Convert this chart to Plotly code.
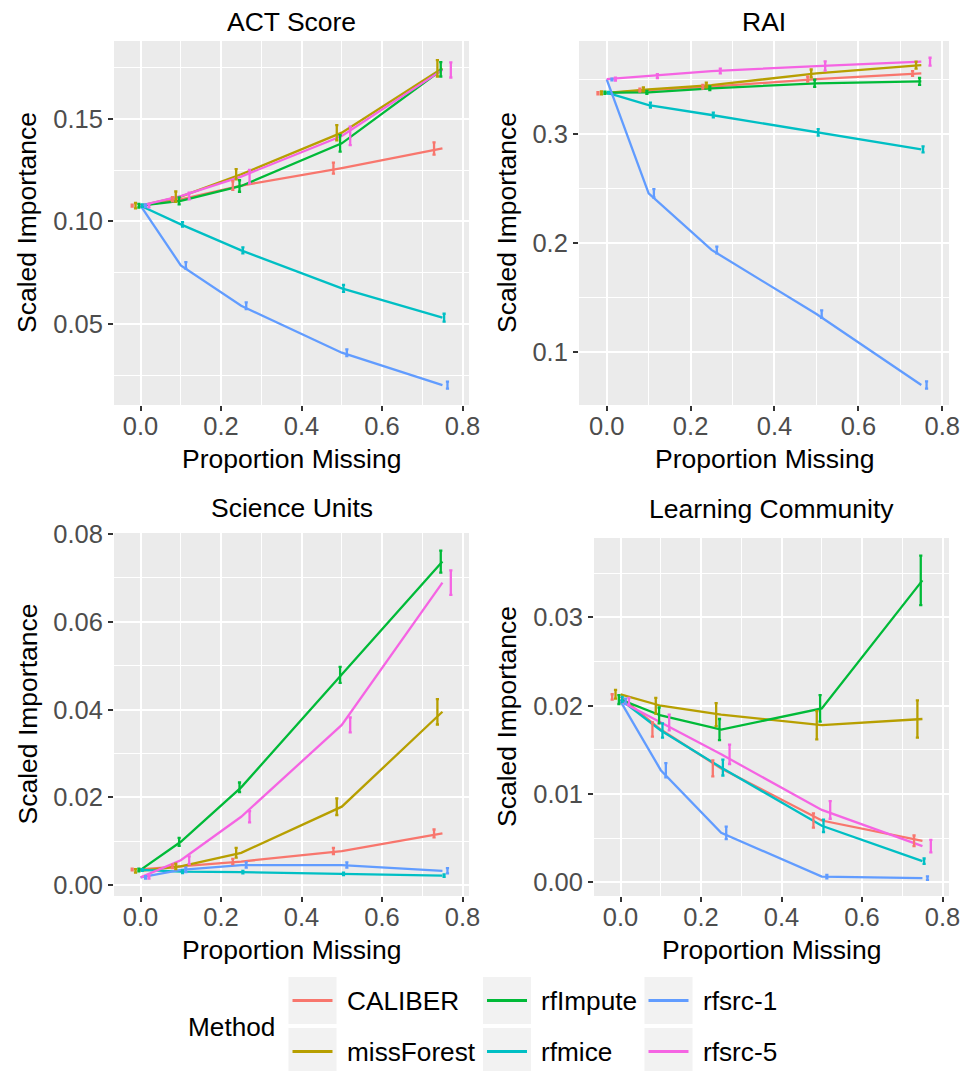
import plotly.graph_objects as go

# ---------------- data ----------------
x_levels = [0.0, 0.10, 0.25, 0.50, 0.75]
methods = ["CALIBER", "missForest", "rfImpute", "rfmice", "rfsrc-1", "rfsrc-5"]
colors = ["#F8766D", "#B79F00", "#00BA38", "#00BFC4", "#619CFF", "#F564E3"]
panel_titles = ["ACT Score", "RAI", "Science Units", "Learning Community"]
x_ticks = [0.0, 0.2, 0.4, 0.6, 0.8]

# ACT Score: rows follow `methods`, columns follow `x_levels`
act_mean = [
    [0.1077, 0.1108, 0.1175, 0.1260, 0.1356],
    [0.1077, 0.1121, 0.1230, 0.1433, 0.1747],
    [0.1077, 0.1100, 0.1173, 0.1381, 0.1742],
    [0.1077, 0.0986, 0.0859, 0.0674, 0.0531],
    [0.1077, 0.0786, 0.0589, 0.0360, 0.0202],
    [0.1077, 0.1124, 0.1219, 0.1417, 0.1739],
]
act_err = [
    [0.0005, 0.0010, 0.0021, 0.0027, 0.0030],
    [0.0013, 0.0025, 0.0025, 0.0037, 0.0040],
    [0.0009, 0.0017, 0.0028, 0.0040, 0.0035],
    [0.0006, 0.0011, 0.0015, 0.0017, 0.0019],
    [0.0006, 0.0016, 0.0016, 0.0016, 0.0017],
    [0.0008, 0.0016, 0.0033, 0.0045, 0.0037],
]
# RAI
rai_mean = [
    [0.3375, 0.3404, 0.3435, 0.3505, 0.3557],
    [0.3378, 0.3410, 0.3450, 0.3557, 0.3634],
    [0.3380, 0.3383, 0.3420, 0.3466, 0.3484],
    [0.3380, 0.3266, 0.3175, 0.3015, 0.2859],
    [0.3502, 0.2455, 0.1935, 0.1346, 0.0694],
    [0.3505, 0.3533, 0.3579, 0.3625, 0.3665],
]
rai_err = [
    [0.0010, 0.0013, 0.0017, 0.0022, 0.0022],
    [0.0013, 0.0018, 0.0022, 0.0036, 0.0032],
    [0.0010, 0.0013, 0.0017, 0.0033, 0.0032],
    [0.0008, 0.0022, 0.0022, 0.0030, 0.0027],
    [0.0008, 0.0038, 0.0031, 0.0034, 0.0033],
    [0.0013, 0.0018, 0.0022, 0.0042, 0.0036],
]
# Science Units
sci_mean = [
    [0.0036, 0.0043, 0.0054, 0.0078, 0.0118],
    [0.0033, 0.0043, 0.0074, 0.0179, 0.0395],
    [0.0035, 0.0099, 0.0223, 0.0479, 0.0737],
    [0.0035, 0.0031, 0.0030, 0.0026, 0.0022],
    [0.0018, 0.0035, 0.0046, 0.0046, 0.0033],
    [0.0018, 0.0057, 0.0156, 0.0365, 0.0689],
]
sci_err = [
    [0.0002, 0.0004, 0.0006, 0.0007, 0.0009],
    [0.0004, 0.0006, 0.0011, 0.0019, 0.0029],
    [0.0003, 0.0009, 0.0011, 0.0018, 0.0025],
    [0.0002, 0.0003, 0.0003, 0.0003, 0.0003],
    [0.0003, 0.0005, 0.0006, 0.0006, 0.0006],
    [0.0003, 0.0009, 0.0013, 0.0017, 0.0028],
]
# Learning Community
lc_mean = [
    [0.0210, 0.0173, 0.0129, 0.0070, 0.0047],
    [0.0213, 0.0200, 0.0190, 0.0178, 0.0185],
    [0.0207, 0.0189, 0.0173, 0.0197, 0.0342],
    [0.0207, 0.0172, 0.0130, 0.0064, 0.0024],
    [0.0205, 0.0127, 0.0056, 0.00065, 0.00047],
    [0.0205, 0.0181, 0.0145, 0.0082, 0.0041],
]
lc_err = [
    [0.0003, 0.0008, 0.0009, 0.0008, 0.0006],
    [0.0005, 0.0009, 0.0013, 0.0016, 0.0021],
    [0.0005, 0.0009, 0.0012, 0.0015, 0.0028],
    [0.0003, 0.0008, 0.0009, 0.0007, 0.0003],
    [0.0003, 0.0008, 0.0007, 0.0002, 0.0002],
    [0.0004, 0.0009, 0.0011, 0.0010, 0.0007],
]

# ---------------- layout constants ----------------
W, H = 966, 1071
FONT = "Liberation Sans, Arial, Helvetica, sans-serif"
dodge_width = 0.05

panels = [
    # data, errors, (left, right, top, bottom) in px, y range, y dtick, y format, title y
    (act_mean, act_err, (114, 469, 41, 405), [0.0105, 0.188], 0.05, ".2f", 22),
    (rai_mean, rai_err, (579, 949, 41, 405), [0.051, 0.3855], 0.1, ".1f", 22),
    (sci_mean, sci_err, (114, 469, 533, 896), [-0.00244, 0.0802], 0.02, ".2f", 508),
    (lc_mean, lc_err, (594, 949, 538, 896), [-0.00155, 0.0390], 0.01, ".2f", 509),
]

def px_x(v):
    return v / W

def px_y(v):
    return 1 - v / H

fig = go.Figure()
layout = dict(
    width=W, height=H,
    margin=dict(l=0, r=0, t=0, b=0, pad=0, autoexpand=False),
    paper_bgcolor="white",
    plot_bgcolor="#EBEBEB",
    showlegend=False,
    font=dict(family=FONT, color="black"),
)
annotations = []
shapes = []

n = len(methods)
offsets = [(i - (n - 1) / 2) * dodge_width / n for i in range(n)]

for p, (means, errs, (l, r, t, b), yr, ydt, yfmt, ty) in enumerate(panels):
    k = "" if p == 0 else str(p + 1)
    xa, ya = "x" + k, "y" + k
    # lines at the undodged positions
    for m in range(n):
        fig.add_trace(go.Scatter(
            x=x_levels, y=means[m], mode="lines", xaxis=xa, yaxis=ya,
            line=dict(color=colors[m], width=2.3), hoverinfo="skip",
            name=methods[m],
        ))
    # dodged error bars
    for m in range(n):
        fig.add_trace(go.Scatter(
            x=[xv + offsets[m] for xv in x_levels], y=means[m],
            mode="markers", xaxis=xa, yaxis=ya,
            marker=dict(size=0.1, color=colors[m], opacity=0),
            error_y=dict(type="data", array=errs[m], color=colors[m],
                         thickness=2.3, width=1.6, visible=True),
            hoverinfo="skip", name=methods[m],
        ))
    common = dict(
        ticks="outside", ticklen=5, tickwidth=2.2, tickcolor="#333333",
        tickfont=dict(size=25.5, color="#4D4D4D", family=FONT),
        showgrid=True, gridcolor="white", gridwidth=2.2,
        zeroline=False, showline=False, automargin=False,
    )
    layout["xaxis" + k] = dict(
        common, domain=[px_x(l), px_x(r)], range=[-0.066, 0.816],
        tickmode="array", tickvals=x_ticks, tickformat=".1f",
        ticklabelstandoff=-7,
        minor=dict(dtick=0.1, tick0=0, showgrid=True, gridcolor="white", gridwidth=1.1),
        anchor=ya,
    )
    layout["yaxis" + k] = dict(
        common, domain=[px_y(b), px_y(t)], range=yr,
        tick0=0, dtick=ydt, tickformat=yfmt,
        minor=dict(dtick=ydt / 2, tick0=0, showgrid=True, gridcolor="white", gridwidth=1.1),
        anchor=xa,
    )
    cx = (l + r) / 2
    cy = (t + b) / 2
    # panel title
    annotations.append(dict(
        text=panel_titles[p], x=px_x(cx), y=px_y(ty), xref="paper", yref="paper",
        xanchor="center", yanchor="middle", showarrow=False,
        font=dict(size=26.5, color="black", family=FONT),
    ))
    # x axis title
    annotations.append(dict(
        text="Proportion Missing", x=px_x(cx), y=px_y(b + 54), xref="paper", yref="paper",
        xanchor="center", yanchor="middle", showarrow=False,
        font=dict(size=26.5, color="black", family=FONT),
    ))
    # y axis title
    ytx = 27 if l < 300 else 507
    annotations.append(dict(
        text="Scaled Importance", x=px_x(ytx), y=px_y(cy), xref="paper", yref="paper",
        xanchor="center", yanchor="middle", showarrow=False, textangle=-90,
        font=dict(size=26.5, color="black", family=FONT),
    ))

# ---------------- legend (ggplot-style, drawn in paper space) ----------------
annotations.append(dict(
    text="Method", x=px_x(186), y=px_y(1027), xref="paper", yref="paper",
    xanchor="left", yanchor="middle", showarrow=False,
    font=dict(size=26.2, color="black", family=FONT),
))
col_left = [288.5, 483, 644.5]
row_center = [1000.5, 1051.5]
key_w, key_h = 48, 47
for m, name in enumerate(methods):
    c, rr = m // 2, m % 2
    x0 = col_left[c]
    yc = row_center[rr]
    shapes.append(dict(
        type="rect", xref="paper", yref="paper",
        x0=px_x(x0), x1=px_x(x0 + key_w), y0=px_y(yc + key_h / 2), y1=px_y(yc - key_h / 2),
        fillcolor="#F2F2F2", line=dict(width=0), layer="below",
    ))
    shapes.append(dict(
        type="line", xref="paper", yref="paper",
        x0=px_x(x0 + 4), x1=px_x(x0 + key_w - 4), y0=px_y(yc), y1=px_y(yc),
        line=dict(color=colors[m], width=2.8),
    ))
    annotations.append(dict(
        text=name, x=px_x(x0 + key_w + 8), y=px_y(yc), xref="paper", yref="paper",
        xanchor="left", yanchor="middle", showarrow=False,
        font=dict(size=26.2, color="black", family=FONT),
    ))

layout["annotations"] = annotations
layout["shapes"] = shapes
fig.update_layout(**layout)

fig.write_html("out.html")
